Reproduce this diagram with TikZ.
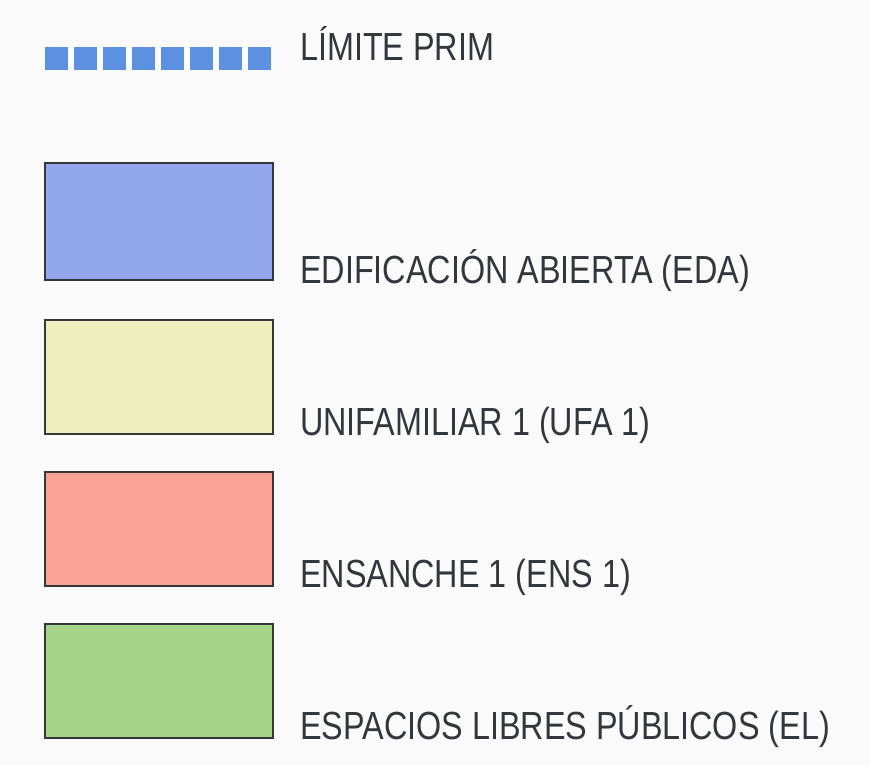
\documentclass[tikz,border=0pt]{standalone}
\usepackage{fontspec}
\newfontfamily\legfont[FakeStretch=0.825]{Liberation Sans}
\definecolor{bgc}{HTML}{FAFAFB}
\definecolor{txtc}{HTML}{33363A}
\definecolor{edgec}{HTML}{35373A}
\definecolor{limc}{HTML}{5B91E0}
\definecolor{edac}{HTML}{93A8EC}
\definecolor{ufac}{HTML}{EEEEBE}
\definecolor{ensc}{HTML}{F9A194}
\definecolor{elc}{HTML}{A6D489}
\begin{document}
\begin{tikzpicture}[x=1pt,y=-1pt,
  swatch/.style={draw=edgec,line width=2pt,minimum width=228pt,minimum height=117pt,inner sep=0pt,anchor=north west},
  label/.style={anchor=base west,inner sep=0pt,text=txtc,font=\legfont\fontsize{39.2}{39.2}\selectfont},
  limline/.style={draw=limc,line width=23pt,dash pattern=on 23pt off 6pt}]
\fill[bgc] (0,0) rectangle (870,765);
\useasboundingbox (0,0) rectangle (870,765);
\coordinate (l1) at (45,58.5);
\coordinate (l2) at (272,58.5);
\draw[limline] (l1) -- (l2);
\node[label] (tlim) at (300,61) {LÍMITE PRIM};
\node[swatch,fill=edac] (eda) at (44,162) {};
\node[label] (teda) at (300,283) {EDIFICACIÓN ABIERTA (EDA)};
\node[swatch,fill=ufac,minimum height=114pt] (ufa) at (44,319) {};
\node[label] (tufa) at (300,435) {UNIFAMILIAR 1 (UFA 1)};
\node[swatch,fill=ensc,minimum height=114pt] (ens) at (44,471) {};
\node[label] (tens) at (300,587) {ENSANCHE 1 (ENS 1)};
\node[swatch,fill=elc,minimum height=114pt] (el) at (44,623) {};
\node[label] (tel) at (300,739) {ESPACIOS LIBRES PÚBLICOS (EL)};
\end{tikzpicture}
\end{document}
